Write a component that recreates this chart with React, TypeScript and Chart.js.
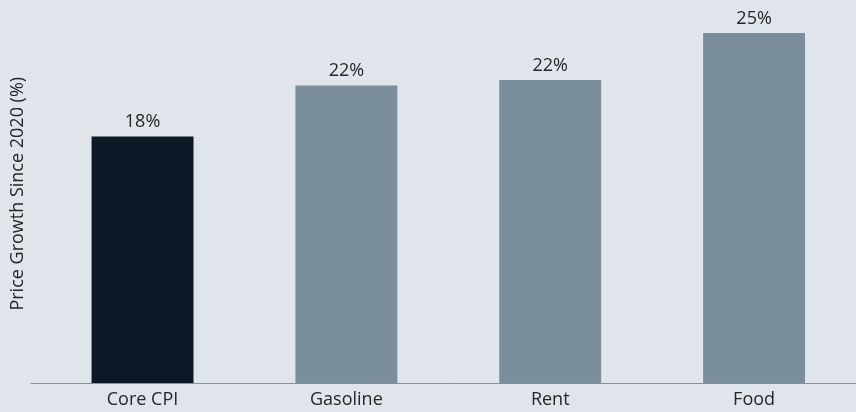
import React, { useEffect, useRef } from "react";
import { Chart, registerables } from "chart.js";

Chart.register(...registerables);

const categories = ["Core CPI", "Gasoline", "Rent", "Food"];
const growthValues = [17.9, 21.6, 22.0, 25.4];
const barColors = ["#0d1826", "#7a8e9b", "#7a8e9b", "#7a8e9b"];
const yAxisTitle = "Price Growth Since 2020 (%)";

const FONT = "'Open Sans', 'Noto Sans', sans-serif";

const valueLabelPlugin = {
  id: "valueLabels",
  afterDatasetsDraw(chart: any) {
    const { ctx } = chart;
    const meta = chart.getDatasetMeta(0);
    ctx.save();
    ctx.font = `18px ${FONT}`;
    ctx.fillStyle = "#262626";
    ctx.textAlign = "center";
    ctx.textBaseline = "alphabetic";
    meta.data.forEach((bar: any, i: number) => {
      const v = chart.data.datasets[0].data[i] as number;
      ctx.fillText(`${Math.round(v)}%`, bar.x, bar.y - 9);
    });
    ctx.restore();
  },
};

export default function App() {
  const canvasRef = useRef<HTMLCanvasElement | null>(null);

  useEffect(() => {
    if (!canvasRef.current) return;
    const chart = new Chart(canvasRef.current, {
      type: "bar",
      data: {
        labels: categories,
        datasets: [
          {
            data: growthValues,
            backgroundColor: barColors,
            borderWidth: 0,
            barPercentage: 0.5,
            categoryPercentage: 1,
          },
        ],
      },
      options: {
        animation: false,
        responsive: true,
        maintainAspectRatio: false,
        layout: { padding: { top: 4, right: 0, bottom: 0, left: 0 } },
        plugins: {
          legend: { display: false },
          tooltip: { enabled: false },
        },
        scales: {
          x: {
            grid: { display: false, drawTicks: false },
            border: { display: false },
            ticks: {
              color: "#262626",
              font: { family: FONT, size: 18 },
              padding: 6,
            },
            afterFit: (axis: any) => {
              axis.height = 28.5;
            },
          },
          y: {
            min: 0,
            max: 27.5,
            border: { display: false },
            grid: {
              drawTicks: true,
              tickLength: 10,
              color: (ctx: any) =>
                ctx.tick && ctx.tick.value === 0 ? "#8a9098" : "rgba(0,0,0,0)",
              lineWidth: 1,
            },
            ticks: { display: false, stepSize: 5 },
            title: {
              display: true,
              text: yAxisTitle,
              color: "#262626",
              font: { family: FONT, size: 18 },
              padding: { top: 7, bottom: 2 },
            },
          },
        },
      },
      plugins: [valueLabelPlugin],
    });
    return () => chart.destroy();
  }, []);

  return (
    <div
      style={{
        position: "fixed",
        left: 0,
        top: 0,
        width: 856,
        height: 412,
        background: "#e0e4eb",
      }}
    >
      <canvas ref={canvasRef} />
    </div>
  );
}
